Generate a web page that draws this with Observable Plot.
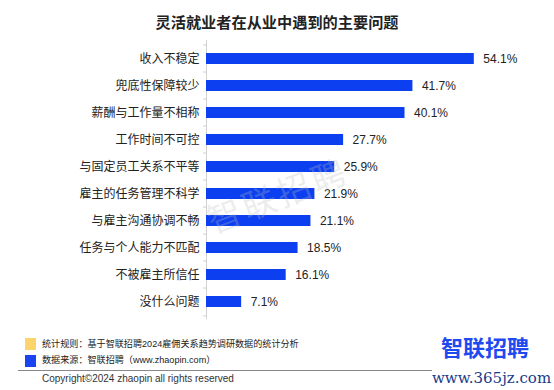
<!DOCTYPE html>
<html>
<head>
<meta charset="utf-8">
<script src="https://cdn.jsdelivr.net/npm/d3@7"></script>
<script src="https://cdn.jsdelivr.net/npm/@observablehq/plot@0.6"></script>
<style>
  html, body { margin: 0; padding: 0; background: #fff; }
  body { width: 554px; height: 390px; position: relative; overflow: hidden;
         font-family: "Liberation Sans", Arial, "Noto Sans CJK SC", sans-serif; color: #222; }
  #title { position: absolute; left: 0; width: 554px; top: 10px; text-align: center;
           font-size: 15.2px; font-weight: bold; font-family: "Noto Sans CJK SC", sans-serif; color: #222; line-height: 22px; }
  #chart { position: absolute; left: 0; top: 30px; }
  .sq { position: absolute; width: 11px; height: 12px; }
  .note { position: absolute; left: 42px; font-size: 9.1px; color: #222; line-height: 12px;
          font-family: "Liberation Sans", Arial, "Noto Sans CJK SC", sans-serif; }
  #hr { position: absolute; left: 18px; width: 414px; top: 370px; height: 1px; background: #888; }
  #copy { position: absolute; left: 42px; top: 373px; font-size: 10px; color: #333; line-height: 12px; }
  #logo { position: absolute; left: 441px; top: 332px; font-size: 22px; font-weight: bold; color: #1f4af0;
          font-family: "Noto Sans CJK SC", sans-serif; line-height: 28px; }
  #site { position: absolute; left: 432px; top: 369px; font-size: 15px; color: #1a3a8a;
          font-family: "DejaVu Serif", "Liberation Serif", serif; line-height: 18px; }
  #wm { position: absolute; left: 202px; top: 205px; font-size: 34px; line-height: 34px; color: rgba(190,190,190,0.28);
        font-family: "Noto Sans CJK SC", sans-serif; transform: rotate(-21deg); transform-origin: 0 0;
        letter-spacing: 3px; white-space: nowrap; }
</style>
</head>
<body>
<div id="title">灵活就业者在从业中遇到的主要问题</div>
<div id="chart"></div>
<div class="sq" style="left:25px; top:338px; background:#fdd36b;"></div>
<div class="note" style="top:338px;">统计规则：基于智联招聘2024雇佣关系趋势调研数据的统计分析</div>
<div class="sq" style="left:25px; top:355px; background:#1a44f0;"></div>
<div class="note" style="top:354px;">数据来源：智联招聘（www.zhaopin.com）</div>
<div id="hr"></div>
<div id="copy">Copyright©2024 zhaopin all rights reserved</div>
<div id="logo">智联招聘</div>
<div id="site">www.365jz.com</div>
<div id="wm">智联招聘</div>
<script>
const categories = ["收入不稳定", "兜底性保障较少", "薪酬与工作量不相称", "工作时间不可控", "与固定员工关系不平等",
                    "雇主的任务管理不科学", "与雇主沟通协调不畅", "任务与个人能力不匹配", "不被雇主所信任", "没什么问题"];
const values = [54.1, 41.7, 40.1, 27.7, 25.9, 21.9, 21.1, 18.5, 16.1, 7.1];

const data = categories.map((c, i) => ({category: c, value: values[i]}));
const step = 27.9;

const chart = Plot.plot({
  width: 554,
  height: 300,
  marginLeft: 206,
  marginRight: 0,
  marginTop: 10,
  marginBottom: 11,
  style: {fontFamily: "'Liberation Sans', Arial, 'Noto Sans CJK SC', sans-serif", background: "transparent"},
  x: {domain: [0, 70], range: [206, 206 + 70 * 4.95], axis: null},
  y: {domain: categories, paddingInner: 0.6, paddingOuter: 0.3, label: null},
  marks: [
    Plot.ruleX([0], {stroke: "#d0d0d0", strokeWidth: 1}),
    Plot.ruleY(categories, {y: d => d, x1: -0.6, x2: 0, dy: -step / 2, stroke: "#d0d0d0"}),
    Plot.ruleY(categories.slice(-1), {y: d => d, x1: -0.6, x2: 0, dy: step / 2, stroke: "#d0d0d0"}),
    Plot.barX(data, {x: "value", y: "category", fill: "#0b3ff0"}),
    Plot.text(data, {x: "value", y: "category", text: d => d.value.toFixed(1) + "%", dx: 9,
                     textAnchor: "start", fontSize: 12, fill: "#222"}),
    Plot.axisY({tickSize: 0, tickPadding: 7, fontSize: 12, color: "#222",
                fontFamily: "'Noto Sans CJK SC', sans-serif"})
  ]
});
document.getElementById("chart").appendChild(chart);
</script>
</body>
</html>
